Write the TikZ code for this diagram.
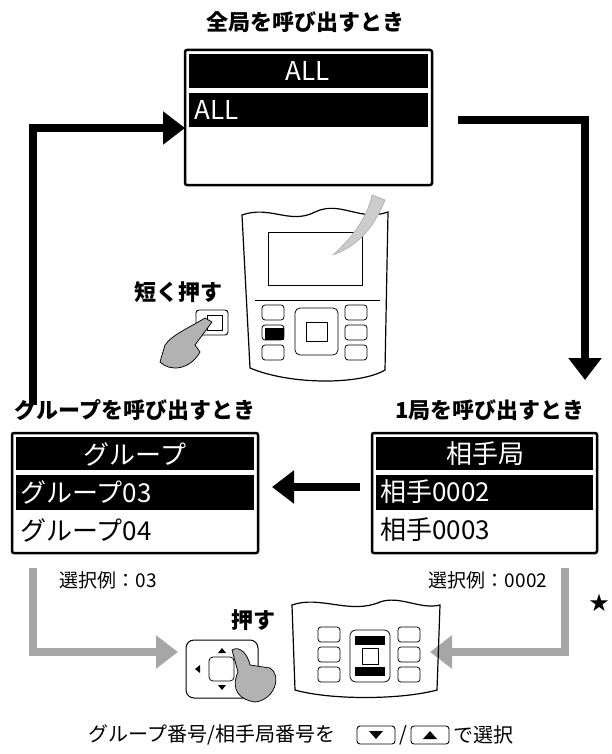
\documentclass[tikz,border=0pt]{standalone}
\usepackage{fontspec}
\setmainfont{Noto Sans CJK JP}
\newfontfamily\symfont{DejaVu Sans}
\usetikzlibrary{arrows.meta}
\tikzset{every picture/.style={line width=0.75pt},
  screen/.style={draw,line width=2.5pt,rounded corners=2pt},
  bar/.style={fill=black},
  flow/.style={line width=8pt,-{Triangle[length=22pt,width=32pt]}},
  gflow/.style={draw=gray!70,line width=8pt,-{Triangle[length=22pt,width=32pt]}},
  title/.style={font=\bfseries\fontsize{22}{24}\selectfont},
  row/.style={font=\fontsize{26}{28}\selectfont,anchor=west,inner sep=0pt},
  key/.style={draw,rounded corners=3pt,line width=0.9pt}}
\begin{document}
\begin{tikzpicture}[x=1pt,y=-1pt]
\useasboundingbox (0,0) rectangle (612,754);
% titles
\node[title] (tAll) at (305,22) {全局を呼び出すとき};
\node[title] (tGrp) at (135,410) {グループを呼び出すとき};
\node[title] (tOne) at (490,410) {1局を呼び出すとき};
% top screen
\draw[screen] (185,50) rectangle (432,185);
\fill[bar] (189,54) rectangle (428,88);
\fill[bar] (189,93) rectangle (428,127);
\node[text=white,font=\fontsize{26}{28}\selectfont] (sAllh) at (308,71) {ALL};
\node[row,text=white] (sAllr) at (194,110) {ALL};
% left screen
\draw[screen] (12,433) rectangle (258,553);
\fill[bar] (16,437) rectangle (254,470);
\fill[bar] (16,475) rectangle (254,510);
\node[text=white,font=\fontsize{26}{28}\selectfont] (sGh) at (135,454) {グループ};
\node[row,text=white] (sG1) at (20,492) {グループ03};
\node[row] (sG2) at (20,530) {グループ04};
% right screen
\draw[screen] (372,433) rectangle (597,553);
\fill[bar] (376,437) rectangle (593,470);
\fill[bar] (376,475) rectangle (593,510);
\node[text=white,font=\fontsize{26}{28}\selectfont] (sOh) at (485,454) {相手局};
\node[row,text=white] (sO1) at (380,492) {相手0002};
\node[row] (sO2) at (380,530) {相手0003};
% black flow arrows
\draw[flow] (33,405) -- (33,128) -- (185,128);
\draw[flow] (458,120) -- (585,120) -- (585,380);
\draw[flow] (360,487) -- (272,487);
% gray arrows
\draw[gflow] (33,568) -- (33,652) -- (178,652);
\draw[gflow] (565,568) -- (565,652) -- (430,652);
\node[font=\symfont\fontsize{24}{26}\selectfont] (star) at (599,603) {★};
\node[font=\fontsize{19}{21}\selectfont] (ex1) at (108,580) {選択例：03};
\node[font=\fontsize{19}{21}\selectfont] (ex2) at (488,580) {選択例：0002};
% top handset
\draw[line width=1.2pt] (242,215) .. controls (270,205) and (290,225) .. (315,212) .. controls (340,200) and (360,222) .. (388,212)
  -- (385,370) .. controls (360,385) and (290,385) .. (250,368) -- cycle;
\draw[line width=1pt] (268,232) rectangle (362,285);
\draw[line width=1pt] (255,300) -- (380,300);
\foreach \x in {262,345} {\foreach \y in {305,325,345} {\draw[rounded corners=3pt] (\x,\y) rectangle ++(22,15);}}
\fill (265,328) rectangle (284,340);
\draw[rounded corners=5pt] (295,308) rectangle (338,355);
\draw (306,322) rectangle (327,341);
\fill[gray!40,draw=gray!60] (333,255) .. controls (355,235) and (368,215) .. (372,195) -- (385,200) .. controls (375,225) and (360,245) .. (333,255);
\node[title] (tShort) at (178,292) {短く押す};
\draw[key] (196,310) rectangle (228,335);
\draw (207,315) rectangle (222,330);
\fill[gray!60,draw=black] (205,318) -- (212,322) -- (195,345) -- (200,352) .. controls (190,370) and (170,372) .. (160,362) -- (165,345) .. controls (172,335) and (185,330) .. (205,318);
% bottom handset
\draw[line width=1.2pt] (292,605) .. controls (320,595) and (350,615) .. (380,602) .. controls (400,595) and (420,610) .. (440,605)
  -- (437,690) .. controls (400,700) and (330,700) .. (295,690) -- cycle;
\foreach \x in {318,398} {\foreach \y in {627,647,667} {\draw[rounded corners=3pt] (\x,\y) rectangle ++(22,15);}}
\draw[rounded corners=6pt] (350,630) rectangle (390,682);
\fill (355,636) rectangle (385,645);
\fill (355,667) rectangle (385,676);
\draw (362,648) rectangle (378,664);
\node[title] (tPush) at (253,620) {押す};
\draw[rounded corners=8pt,line width=1pt] (186,640) rectangle (258,698);
\draw[rounded corners=4pt] (209,657) rectangle (234,681);
\fill (222,648) -- (218,653) -- (226,653) -- cycle;
\fill (222,690) -- (218,685) -- (226,685) -- cycle;
\fill (195,669) -- (200,665) -- (200,673) -- cycle;
\fill[gray!60,draw=black] (232,650) .. controls (240,645) and (248,655) .. (250,665) -- (270,668) .. controls (282,675) and (275,700) .. (255,702) .. controls (240,700) and (230,690) .. (238,672) -- cycle;
% bottom caption
\node[anchor=west,font=\fontsize{20}{22}\selectfont,inner sep=0pt] (cap1) at (88,735) {グループ番号/相手局番号を};
\draw[key] (357,726) rectangle (395,744);
\fill (369,731) -- (383,731) -- (376,739) -- cycle;
\node[font=\fontsize{20}{22}\selectfont,inner sep=0pt] (slash) at (403,735) {/};
\draw[key] (411,726) rectangle (449,744);
\fill (423,739) -- (437,739) -- (430,731) -- cycle;
\node[anchor=west,font=\fontsize{20}{22}\selectfont,inner sep=0pt] (cap2) at (453,735) {で選択};
\end{tikzpicture}
\end{document}
